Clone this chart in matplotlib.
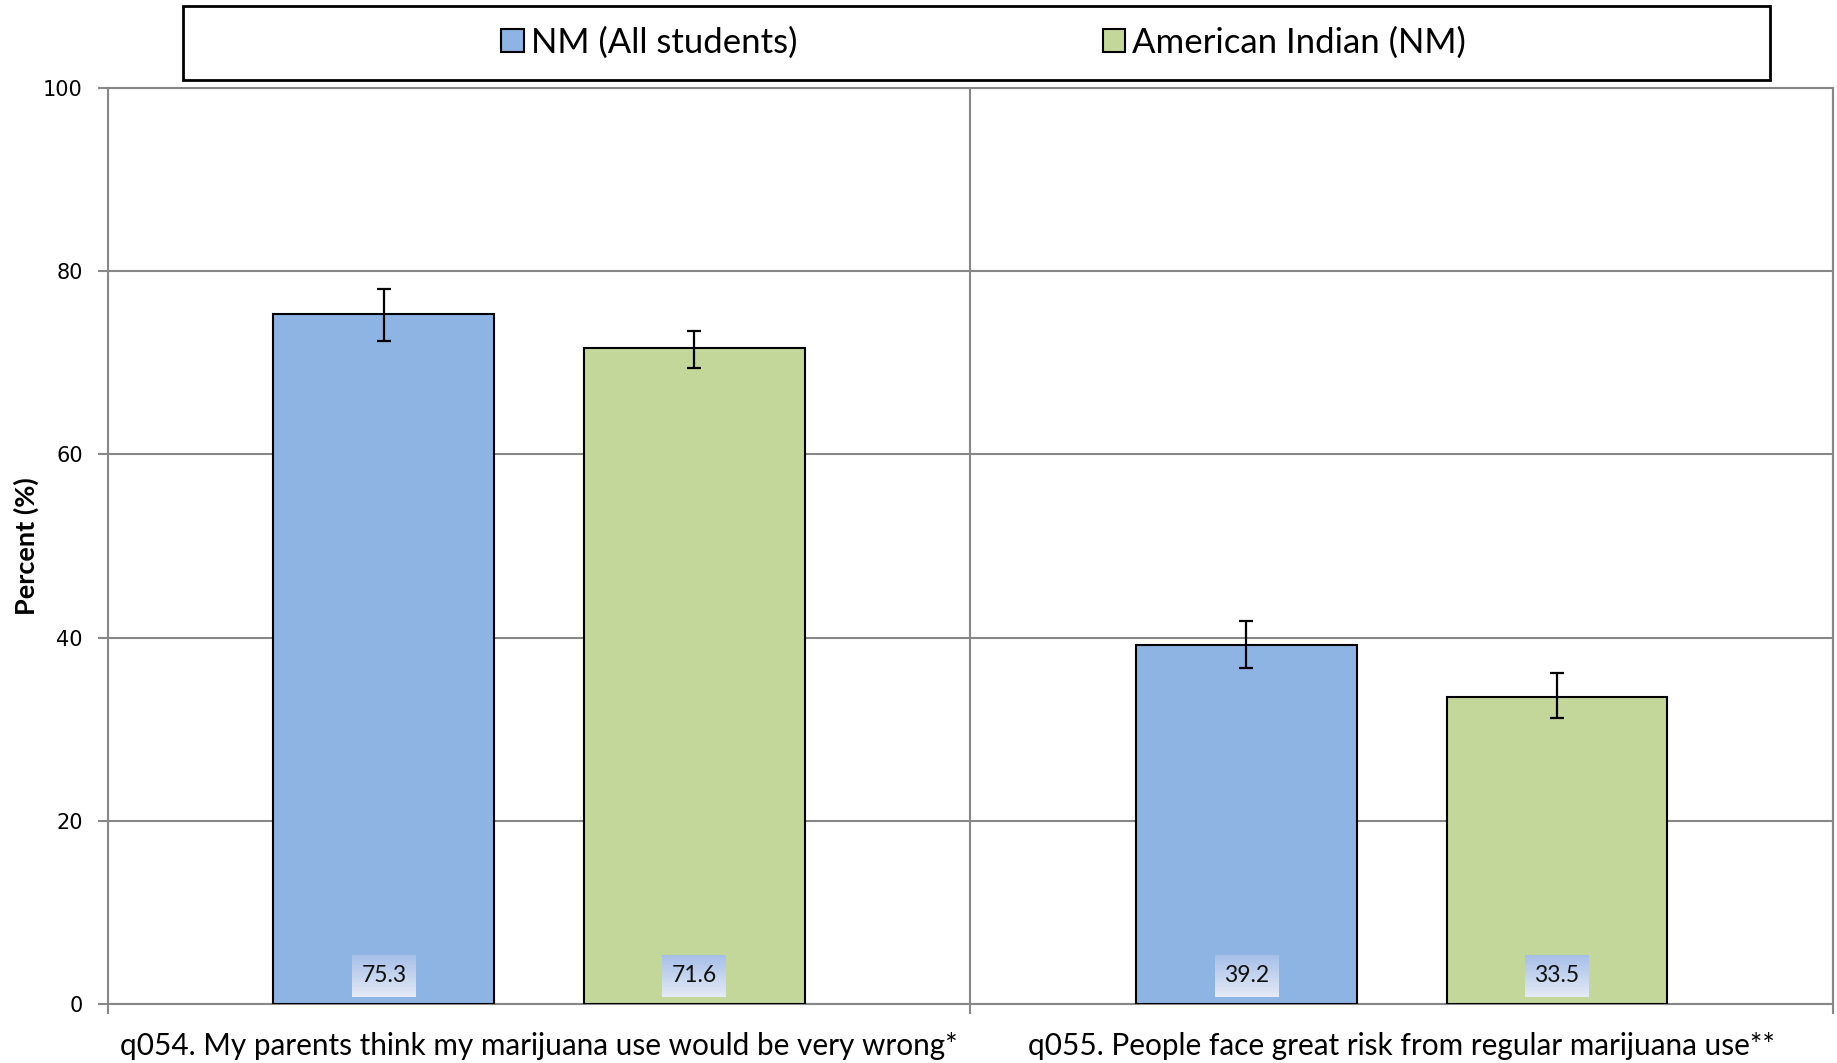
import matplotlib
matplotlib.use("Agg")
import matplotlib.pyplot as plt
import numpy as np
from matplotlib.patches import Rectangle
from matplotlib.colors import LinearSegmentedColormap

# ---- data ----
categories = ["q054. My parents think my marijuana use would be very wrong*",
              "q055. People face great risk from regular marijuana use**"]
series_names = ["NM (All students)", "American Indian (NM)"]
nm_all = [75.3, 39.2]
nm_all_lo = [72.4, 36.7]
nm_all_hi = [78.1, 41.8]
am_ind = [71.6, 33.5]
am_ind_lo = [69.4, 31.2]
am_ind_hi = [73.5, 36.1]
y_ticks = [0, 20, 40, 60, 80, 100]

colors = ["#8EB4E3", "#C4D79B"]
grid_c = "#878787"
font = "Lato"

fig = plt.figure(figsize=(18.37, 10.63), dpi=100)
ax = fig.add_axes([0.0587, 0.0555, 0.9391, 0.8617])

grad = LinearSegmentedColormap.from_list("lbl", ["#e4eaf6", "#a7bfe8"])
grad_img = np.linspace(0, 1, 64).reshape(-1, 1)

x = np.arange(len(categories))
width = 0.256
offset = 0.18
box_hw = 0.037   # half-width of label box (data units)
box_y0, box_y1 = 0.8, 5.35
series = [(nm_all, nm_all_lo, nm_all_hi), (am_ind, am_ind_lo, am_ind_hi)]
handles = []
for i, (vals, lo, hi) in enumerate(series):
    xs = x + (-offset if i == 0 else offset)
    vals = np.array(vals); lo = np.array(lo); hi = np.array(hi)
    b = ax.bar(xs, vals, width, color=colors[i], edgecolor="black", linewidth=1.5,
               zorder=3, label=series_names[i])
    handles.append(b)
    ax.errorbar(xs, vals, yerr=[vals - lo, hi - vals], fmt="none", ecolor="black",
                elinewidth=1.6, capsize=5, capthick=1.6, zorder=4)
    for xi, v in zip(xs, vals):
        ax.imshow(grad_img, cmap=grad, aspect="auto", origin="lower",
                  extent=(xi - box_hw, xi + box_hw, box_y0, box_y1), zorder=4.5,
                  interpolation="bilinear")
        ax.text(xi, (box_y0 + box_y1) / 2, f"{v:.1f}", ha="center", va="center",
                fontsize=16.5, family=font, color="#111111", zorder=5)

ax.set_xlim(-0.5, len(categories) - 0.5)
ax.set_ylim(0, 100)
ax.set_yticks(y_ticks)
ax.set_yticklabels([str(t) for t in y_ticks], family="DejaVu Sans", fontsize=15)
ax.tick_params(axis="y", direction="out", length=7, width=1.5, color=grid_c, pad=11)
ax.yaxis.grid(True, color=grid_c, linewidth=1.5, zorder=0)

ax.set_xticks(x)
ax.set_xticklabels(categories, family=font, fontsize=21.4)
ax.tick_params(axis="x", which="major", length=0, pad=20)
ax.set_xticks(np.arange(-0.5, len(categories)), minor=True)
ax.tick_params(axis="x", which="minor", direction="out", length=7, width=1.5, color=grid_c)
ax.xaxis.grid(True, which="minor", color=grid_c, linewidth=1.5, zorder=0)

for s in ax.spines.values():
    s.set_color(grid_c)
    s.set_linewidth(1.5)

ax.set_ylabel("Percent (%)", family=font, fontsize=19.5, fontweight="bold")
ax.yaxis.set_label_coords(-0.04, 0.5)

# legend box
fig.patches.append(Rectangle((0.0995, 0.925), 0.864, 0.0694, transform=fig.transFigure,
                             fill=False, edgecolor="black", linewidth=2))
leg = fig.legend(handles=handles, labels=series_names, loc="center",
                 bbox_to_anchor=(0.5355, 0.9597), ncol=2, frameon=False,
                 prop={"family": font, "size": 25}, handlelength=0.65,
                 handleheight=0.65, handletextpad=0.2, columnspacing=8.8)

fig.savefig("out.png", dpi=100)
